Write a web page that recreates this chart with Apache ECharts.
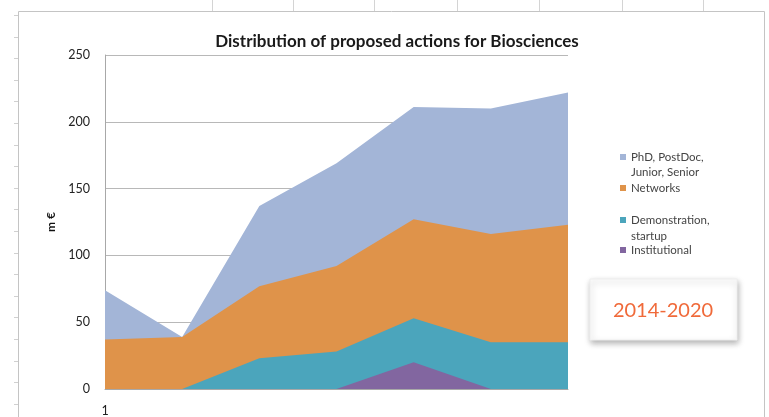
<!DOCTYPE html>
<html lang="en">
<head>
<meta charset="UTF-8">
<title>Distribution of proposed actions for Biosciences</title>
<script src="https://cdn.jsdelivr.net/npm/echarts@6/dist/echarts.min.js"></script>
<style>
  html, body { margin: 0; padding: 0; background: #fff; }
  #main { width: 769px; height: 417px; }
</style>
</head>
<body>
<div id="main"></div>
<script>
// x categories (only the first one is visible in the picture)
var periods = ['1', '2', '3', '4', '5', '6', '7'];
var yTicks = [0, 50, 100, 150, 200, 250];

// values in m€, areas overlap (not stacked)
var phd = [74, 39, 137, 169, 211, 210, 222];
var networks = [37, 39, 77, 92, 127, 116, 123];
var demo = [0, 0, 23, 28, 53, 35, 35];
var institutional = [0, 0, 0, 0, 20, 0, 0];

var names = ['PhD, PostDoc, Junior, Senior', 'Networks', 'Demonstration, startup', 'Institutional'];
// legend shows names over two lines like the original
var legendFirst = {
  'PhD, PostDoc, Junior, Senior': 'PhD, PostDoc,',
  'Demonstration, startup': 'Demonstration,'
};
var colors = ['#a3b5d7', '#df934a', '#4ba5bc', '#8266a0'];

var font = 'Lato, "Open Sans", sans-serif';

function area(i, data) {
  return {
    name: names[i],
    type: 'line',
    data: data,
    symbol: 'none',
    lineStyle: { width: 0 },
    areaStyle: { color: colors[i], opacity: 1 },
    itemStyle: { color: colors[i] },
    z: 2 + i
  };
}

function legendBox(top, gap, items) {
  return {
    orient: 'vertical',
    left: 620,
    top: top,
    padding: 0,
    itemWidth: 6,
    itemHeight: 6,
    itemGap: gap,
    icon: 'rect',
    data: items,
    formatter: function (n) { return legendFirst[n] || n; },
    textStyle: { fontSize: 11.5, color: '#444', lineHeight: 15, fontFamily: font }
  };
}

function note(x, y, txt) {
  return { type: 'text', x: x, y: y,
    style: { text: txt, fill: '#444', font: '11.5px ' + font, textVerticalAlign: 'middle' } };
}

var rowTicks = [];
for (var ty = 15; ty < 417; ty += 21.6) rowTicks.push(Math.round(ty) + 0.5);

var myChart = echarts.init(document.getElementById('main'));
var option = {
  animation: false,
  textStyle: { fontFamily: font },
  color: colors,
  title: {
    text: 'Distribution of proposed actions for Biosciences',
    left: 392,
    top: 28,
    textAlign: 'center',
    textStyle: { fontSize: 17, fontWeight: 'bold', color: '#1a1a1a', fontFamily: font }
  },
  legend: [
    legendBox(149.5, 16, [names[0], names[1]]),
    legendBox(212.5, 15, [names[2], names[3]])
  ],
  grid: { left: 105, right: 201, top: 55, bottom: 28 },
  xAxis: {
    type: 'category',
    boundaryGap: false,
    data: periods,
    axisLine: { lineStyle: { color: '#a8a8a8' } },
    axisTick: { show: false },
    axisLabel: {
      interval: function (idx) { return idx === 0; },
      fontSize: 12.5, color: '#222', margin: 15
    }
  },
  yAxis: {
    type: 'value',
    min: yTicks[0],
    max: yTicks[yTicks.length - 1],
    interval: 50,
    name: 'm €',
    nameLocation: 'middle',
    nameGap: 46,
    nameRotate: 90,
    nameTextStyle: { fontSize: 12, fontWeight: 'bold', color: '#111' },
    axisLine: { show: true, lineStyle: { color: '#a8a8a8' } },
    axisTick: { show: false },
    axisLabel: { fontSize: 12.5, color: '#222', margin: 15 },
    splitLine: { lineStyle: { color: '#b8b8b8', width: 1 } }
  },
  series: [area(0, phd), area(1, networks), area(2, demo), area(3, institutional)],
  graphic: [
    // chart frame
    { type: 'rect', shape: { x: 18.5, y: 11.5, width: 746, height: 420 },
      style: { fill: null, stroke: '#c4c4c4', lineWidth: 1 }, z: 0 },
    // spreadsheet cell lines above the chart and row marks on the left
    { type: 'group', children: [212, 293, 374, 457, 539, 622, 703].map(function (x) {
        return { type: 'line', shape: { x1: x + 0.5, y1: 0, x2: x + 0.5, y2: 11 },
          style: { stroke: '#d4d4d4', lineWidth: 1 } };
      }).concat(rowTicks.map(function (y) {
        return { type: 'line', shape: { x1: 14, y1: y, x2: 18, y2: y },
          style: { stroke: '#d0d0d0', lineWidth: 1 } };
      })) },
    // second lines of the two-line legend entries
    note(631, 172, 'Junior, Senior'),
    note(631, 236, 'startup'),
    // period box
    { type: 'rect', shape: { x: 590, y: 279, width: 147, height: 61 },
      style: { fill: '#fff', stroke: '#eee', lineWidth: 1,
        shadowBlur: 6, shadowOffsetX: 1, shadowOffsetY: 3, shadowColor: 'rgba(0,0,0,0.3)' }, z: 10 },
    { type: 'text', x: 663, y: 311, z: 11,
      style: { text: '2014-2020', fill: '#f06a3a', font: '20px ' + font, textAlign: 'center', textVerticalAlign: 'middle' } }
  ]
};
myChart.setOption(option);
</script>
</body>
</html>
